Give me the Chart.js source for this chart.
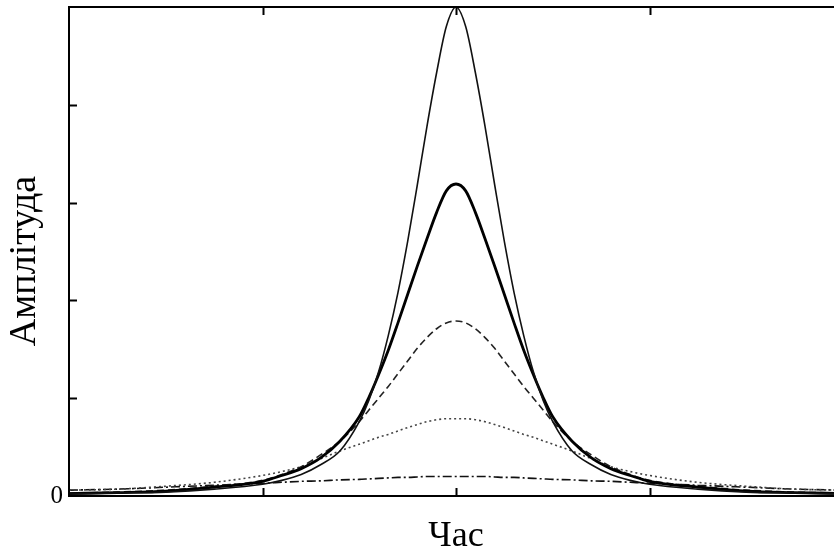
<!DOCTYPE html>
<html>
<head>
<meta charset="UTF-8">
<title>Амплітуда</title>
<script src="https://cdn.jsdelivr.net/npm/chart.js"></script>
<style>
body{margin:0; overflow:hidden; background:#fff;}
#wrap{width:834px; height:555px; overflow:hidden;}
</style>
</head>
<body>
<div id="wrap">
	<canvas id="myChart" width="843" height="555"></canvas>
</div>
<script>
// час (x), значення читались з картинки
var xs = [-2,-1.75,-1.5,-1.25,-1,-0.9,-0.8,-0.7,-0.6,-0.5,-0.45,-0.4,-0.35,-0.3,-0.25,-0.2,-0.15,-0.1,-0.05,
	0,0.05,0.1,0.15,0.2,0.25,0.3,0.35,0.4,0.45,0.5,0.6,0.7,0.8,0.9,1,1.25,1.5,1.75,2];

var thinSolid = [0.02,0.03,0.04,0.07,0.12,0.16,0.22,0.32,0.46,0.76,0.98,1.27,1.64,2.08,2.60,3.18,3.78,4.33,4.80,
	5.0,4.80,4.33,3.78,3.18,2.60,2.08,1.64,1.27,0.98,0.76,0.46,0.32,0.22,0.16,0.12,0.07,0.04,0.03,0.02];

var thickSolid = [0.025,0.035,0.05,0.09,0.15,0.21,0.28,0.39,0.56,0.81,1.01,1.24,1.49,1.77,2.06,2.35,2.63,2.90,3.12,
	3.19,3.12,2.90,2.63,2.35,2.06,1.77,1.49,1.24,1.01,0.81,0.56,0.39,0.28,0.21,0.15,0.09,0.05,0.035,0.025];

var dashed = [0.03,0.04,0.06,0.10,0.16,0.22,0.30,0.42,0.56,0.76,0.88,1.00,1.12,1.25,1.38,1.51,1.62,1.71,1.77,
	1.79,1.77,1.71,1.62,1.51,1.38,1.25,1.12,1.00,0.88,0.76,0.56,0.42,0.30,0.22,0.16,0.10,0.06,0.04,0.03];

var dotted = [0.06,0.07,0.10,0.14,0.21,0.25,0.30,0.38,0.46,0.53,0.565,0.60,0.63,0.665,0.70,0.73,0.76,0.78,0.79,
	0.79,0.79,0.78,0.76,0.73,0.70,0.665,0.63,0.60,0.565,0.53,0.46,0.38,0.30,0.25,0.21,0.14,0.10,0.07,0.06];

var dashDot = [0.06,0.07,0.09,0.11,0.13,0.14,0.15,0.155,0.165,0.17,0.175,0.18,0.185,0.19,0.19,0.195,0.2,0.2,0.2,
	0.2,0.2,0.2,0.2,0.195,0.19,0.19,0.185,0.18,0.175,0.17,0.165,0.155,0.15,0.14,0.13,0.11,0.09,0.07,0.06];

var xTicks = [-1, 0, 1];
var yTicks = [1, 2, 3, 4];

function pts(arr){
	return xs.map(function(x, i){ return {x: x, y: arr[i]}; });
}

// рамка і внутрішні риски
var frame = {
	id: 'frame',
	afterDraw: function(chart){
		var c = chart.ctx, a = chart.chartArea;
		var sx = chart.scales.x, sy = chart.scales.y;
		c.save();
		c.strokeStyle = '#000';
		c.lineWidth = 2;
		c.strokeRect(a.left, a.top, a.right - a.left, a.bottom - a.top);
		xTicks.forEach(function(v){
			var p = Math.round(sx.getPixelForValue(v)) + 0.5;
			c.beginPath();
			c.moveTo(p, a.bottom); c.lineTo(p, a.bottom - 8);
			c.moveTo(p, a.top); c.lineTo(p, a.top + 8);
			c.stroke();
		});
		yTicks.forEach(function(v){
			var p = Math.round(sy.getPixelForValue(v)) + 0.5;
			c.beginPath();
			c.moveTo(a.left, p); c.lineTo(a.left + 8, p);
			c.moveTo(a.right, p); c.lineTo(a.right - 8, p);
			c.stroke();
		});
		c.restore();
	}
};

var serif = "'Liberation Serif', 'DejaVu Serif', serif";

new Chart(document.getElementById('myChart'), {
	type: 'line',
	data: {
		datasets: [
			{data: pts(thinSolid), borderColor: '#111', borderWidth: 1.6},
			{data: pts(thickSolid), borderColor: '#000', borderWidth: 2.8},
			{data: pts(dashed), borderColor: '#222', borderWidth: 1.6, borderDash: [7, 4]},
			{data: pts(dotted), borderColor: '#444', borderWidth: 1.6, borderDash: [2, 3]},
			{data: pts(dashDot), borderColor: '#111', borderWidth: 1.6, borderDash: [9, 3, 2, 3]}
		]
	},
	options: {
		responsive: false,
		animation: false,
		layout: {padding: {top: 7, left: 0, right: 0, bottom: 0}},
		elements: {
			point: {radius: 0},
			line: {cubicInterpolationMode: 'monotone', fill: false}
		},
		plugins: {legend: {display: false}, tooltip: {enabled: false}},
		scales: {
			x: {
				type: 'linear',
				min: -2, max: 2,
				grid: {display: false, drawTicks: false},
				border: {display: false},
				ticks: {display: false},
				title: {display: true, text: 'Час', color: '#000',
					font: {family: serif, size: 36, lineHeight: 1}, padding: {top: 0, bottom: 0}},
				afterFit: function(s){ s.height = 59; s.paddingLeft = 0; s.paddingRight = 0; }
			},
			y: {
				min: 0, max: 5,
				grid: {display: false, drawTicks: false},
				border: {display: false},
				ticks: {
					stepSize: 1, padding: 6, color: '#000',
					font: {family: serif, size: 25},
					callback: function(v){ return v === 0 ? '0' : ''; }
				},
				title: {display: true, text: 'Амплітуда\u00A0\u00A0', color: '#000',
					font: {family: serif, size: 38, lineHeight: 1.1}, padding: {top: 4, bottom: 0}},
				afterFit: function(s){ s.width = 69; s.paddingTop = 0; s.paddingBottom = 0; }
			}
		}
	},
	plugins: [frame]
});
</script>
</body>
</html>
